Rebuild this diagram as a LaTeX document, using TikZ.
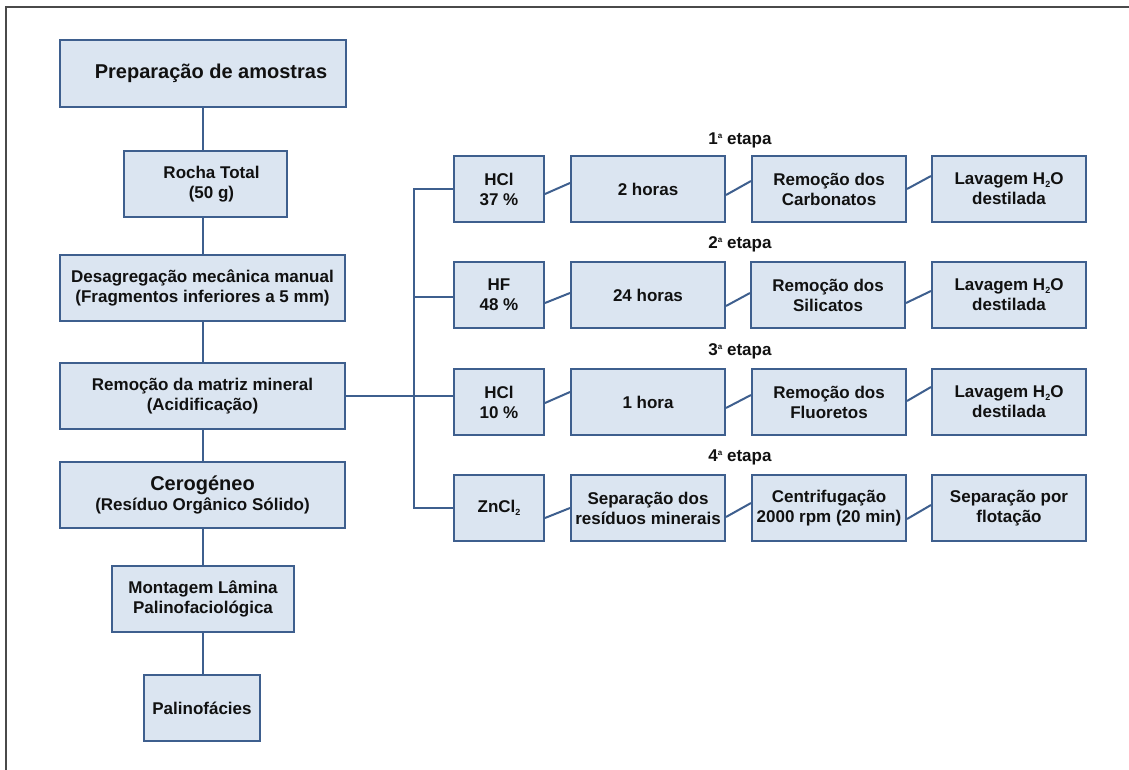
\documentclass[tikz,border=0pt]{standalone}
\usepackage{fontspec}
\setmainfont{Liberation Sans}
\definecolor{boxfill}{HTML}{DBE5F1}
\definecolor{boxline}{HTML}{3E5F8E}
\definecolor{frameline}{HTML}{4A4A4A}
\definecolor{ink}{HTML}{111111}
\tikzset{
  box/.style={draw=boxline, fill=boxfill, line width=2pt, inner sep=0pt,
    align=center, text=ink, font=\fontsize{17}{20}\selectfont\bfseries},
  wh/.style 2 args={minimum width=#1pt, minimum height=#2pt},
  wire/.style={draw=boxline, line width=2pt},
  stage/.style={inner sep=0pt, text=ink, font=\fontsize{17}{20}\selectfont\bfseries},
  big/.style={font=\fontsize{20}{22}\selectfont\bfseries}
}
% slanted link between two neighbouring boxes of a row
\newcommand{\joint}[4]{\draw[wire] ([yshift=#3pt]#1.east) -- ([yshift=#4pt]#2.west);}
\newcommand{\sa}{\raisebox{0.6ex}{\fontsize{8}{8}\selectfont a}}
\newcommand{\sub}[1]{\raisebox{-0.35ex}{\fontsize{9}{9}\selectfont #1}}
\begin{document}
\begin{tikzpicture}[x=1pt, y=-1pt]
\useasboundingbox (0,0) rectangle (1129,770);
\fill[white] (0,0) rectangle (1129,770);
\draw[frameline, line width=2pt] (6,770) -- (6,7) -- (1129,7);

% main column
\node[box, big, wh={286}{67}] (prep) at (203,73.5) {\hspace*{16pt}Prepara\c{c}\~ao de amostras\rule[-4pt]{0pt}{0pt}};
\node[box, wh={163}{66}] (rocha) at (205.5,184) {\hspace*{12pt}Rocha Total\\\hspace*{12pt}(50 g)};
\node[box, wh={285}{66}] (desag) at (202.5,288) {Desagrega\c{c}\~ao mec\^anica manual\\(Fragmentos inferiores a 5 mm)};
\node[box, wh={285}{66}] (remo) at (202.5,396) {Remo\c{c}\~ao da matriz mineral\\(Acidifica\c{c}\~ao)};
\node[box, wh={285}{66}] (cero) at (202.5,495) {{\fontsize{20}{21}\selectfont Cerog\'eneo}\\(Res\'iduo Org\^anico S\'olido)};
\node[box, wh={182}{66}] (mont) at (203,598.5) {Montagem L\^amina\\Palinofaciol\'ogica};
\node[box, wh={116}{66}] (palino) at (202,708) {Palinof\'acies};

\draw[wire] (prep.south) -- (prep.south |- rocha.north);
\draw[wire] (desag.north) -- (desag.north |- rocha.south);
\draw[wire] (desag.south) -- (remo.north);
\draw[wire] (remo.south) -- (cero.north);
\draw[wire] (cero.south) -- (cero.south |- mont.north);
\draw[wire] (mont.south) -- (mont.south |- palino.north);

% acid treatment rows
\node[box, wh={90}{66}]  (h1) at (499,189) {HCl\\37 \%};
\node[box, wh={154}{66}] (t1) at (648,189) {2 horas};
\node[box, wh={154}{66}] (r1) at (829,189) {Remo\c{c}\~ao dos\\Carbonatos};
\node[box, wh={154}{66}] (l1) at (1009,189) {Lavagem H\sub{2}O\\destilada};

\node[box, wh={90}{66}]  (h2) at (499,295) {HF\\48 \%};
\node[box, wh={154}{66}] (t2) at (648,295) {24 horas};
\node[box, wh={154}{66}] (r2) at (828,295) {Remo\c{c}\~ao dos\\Silicatos};
\node[box, wh={154}{66}] (l2) at (1009,295) {Lavagem H\sub{2}O\\destilada};

\node[box, wh={90}{66}]  (h3) at (499,402) {HCl\\10 \%};
\node[box, wh={154}{66}] (t3) at (648,402) {1 hora};
\node[box, wh={154}{66}] (r3) at (829,402) {Remo\c{c}\~ao dos\\Fluoretos};
\node[box, wh={154}{66}] (l3) at (1009,402) {Lavagem H\sub{2}O\\destilada};

\node[box, wh={90}{66}]  (h4) at (499,508) {ZnCl\sub{2}};
\node[box, wh={154}{66}] (t4) at (648,508) {Separa\c{c}\~ao dos\\res\'iduos minerais};
\node[box, wh={154}{66}] (r4) at (829,508) {Centrifuga\c{c}\~ao\\2000 rpm (20 min)};
\node[box, wh={154}{66}] (l4) at (1009,508) {Separa\c{c}\~ao por\\flota\c{c}\~ao};

% stage captions
\node[stage] (e1) at (740,140) {1\sa\ etapa};
\node[stage] (e2) at (740,244) {2\sa\ etapa};
\node[stage] (e3) at (740,351) {3\sa\ etapa};
\node[stage] (e4) at (740,457) {4\sa\ etapa};

% distribution bus
\coordinate (bus) at (414,0);
\draw[wire] (h1.west) -- (h1.west -| bus) -- (h4.west -| bus) -- (h4.west);
\draw[wire] ([yshift=-2pt]h2.west) -- ([yshift=-2pt]h2.west -| bus);
\draw[wire] (remo.east) -- (remo.east -| h3.west);

\joint{h1}{t1}{-5}{6}
\joint{t1}{r1}{-6}{8}
\joint{r1}{l1}{0}{13}
\joint{h2}{t2}{-8}{2}
\joint{t2}{r2}{-11}{2}
\joint{r2}{l2}{-8}{4}
\joint{h3}{t3}{-1}{10}
\joint{t3}{r3}{-6}{7}
\joint{r3}{l3}{1}{15}
\joint{h4}{t4}{-10}{0}
\joint{t4}{r4}{-9}{5}
\joint{r4}{l4}{-11}{3}
\end{tikzpicture}
\end{document}
